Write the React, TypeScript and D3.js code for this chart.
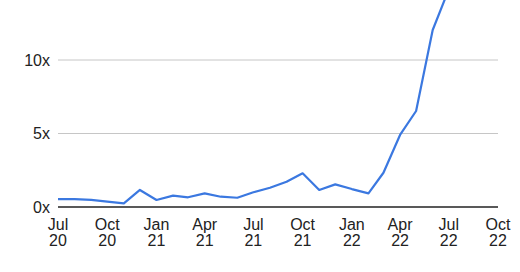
import React from "react";
import * as d3 from "d3";

const months = [
  "2020-07", "2020-08", "2020-09", "2020-10", "2020-11", "2020-12",
  "2021-01", "2021-02", "2021-03", "2021-04", "2021-05", "2021-06",
  "2021-07", "2021-08", "2021-09", "2021-10", "2021-11", "2021-12",
  "2022-01", "2022-02", "2022-03", "2022-04", "2022-05", "2022-06",
  "2022-07",
];
const values = [
  0.54, 0.54, 0.48, 0.36, 0.25, 1.16,
  0.48, 0.77, 0.66, 0.93, 0.70, 0.63,
  1.0, 1.31, 1.72, 2.29, 1.16, 1.54,
  1.22, 0.93, 2.33, 4.9, 6.53, 12.04,
  14.8,
];
const yTicks = [0, 5, 10];
const yTickLabels = ["0x", "5x", "10x"];
const xTicks = ["2020-07", "2020-10", "2021-01", "2021-04", "2021-07", "2021-10", "2022-01", "2022-04", "2022-07", "2022-10"];
const xTickLine1 = ["Jul", "Oct", "Jan", "Apr", "Jul", "Oct", "Jan", "Apr", "Jul", "Oct"];
const xTickLine2 = ["20", "20", "21", "21", "21", "21", "22", "22", "22", "22"];

const W = 520;
const H = 272;
const parse = d3.timeParse("%Y-%m");

export default function App() {
  const x = d3.scaleTime()
    .domain([parse("2020-07")!, parse("2022-10")!])
    .range([58, 498]);
  const y = d3.scaleLinear().domain([0, 10]).range([207, 60]);
  const line = d3.line<number>()
    .x((_, i) => x(parse(months[i])!))
    .y((d) => y(d));
  const font = "Liberation Sans, Arial, sans-serif";
  return (
    <svg width={W} height={H} style={{ position: "absolute", left: 0, top: 0, overflow: "hidden" }}>
      <rect width={W} height={H} fill="#fff" />
      {yTicks.map((t, i) => (
        <g key={t}>
          {t !== 0 && (
            <line x1={58} x2={498} y1={y(t)} y2={y(t)} stroke="#c6c6c6" strokeWidth={1} />
          )}
          <text x={50} y={y(t) + 5.5} textAnchor="end" fontSize={16} fontFamily={font} fill="#222">
            {yTickLabels[i]}
          </text>
        </g>
      ))}
      <path d={line(values) || ""} fill="none" stroke="#3b78e0" strokeWidth={2.2} strokeLinejoin="round" />
      <line x1={58} x2={498} y1={y(0)} y2={y(0)} stroke="#222" strokeWidth={1.3} />
      {xTicks.map((t, i) => (
        <text key={t} x={x(parse(t)!)} textAnchor="middle" fontSize={16} fontFamily={font} fill="#222">
          <tspan x={x(parse(t)!)} y={230}>{xTickLine1[i]}</tspan>
          <tspan x={x(parse(t)!)} y={246}>{xTickLine2[i]}</tspan>
        </text>
      ))}
    </svg>
  );
}
